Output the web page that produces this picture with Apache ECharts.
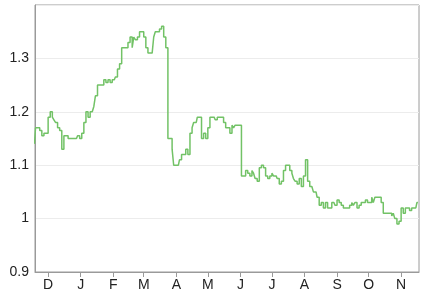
<!DOCTYPE html>
<html>
<head>
<meta charset="utf-8">
<script src="https://cdn.jsdelivr.net/npm/echarts@6/dist/echarts.min.js"></script>
<style>html,body{margin:0;padding:0;background:#fff}#c{width:433px;height:294px}</style>
</head>
<body>
<div id="c"></div>
<script>
const dates = [
'2015-11-18','2015-11-20','2015-11-22','2015-11-24','2015-11-26','2015-11-28','2015-11-30','2015-12-02','2015-12-04','2015-12-06',
'2015-12-07','2015-12-09','2015-12-11','2015-12-13','2015-12-15','2015-12-17','2015-12-19','2015-12-21','2015-12-23','2015-12-25',
'2015-12-26','2015-12-28','2015-12-30','2016-01-01','2016-01-03','2016-01-05','2016-01-07','2016-01-09','2016-01-11','2016-01-13',
'2016-01-14','2016-01-16','2016-01-18','2016-01-20','2016-01-22','2016-01-24','2016-01-26','2016-01-28','2016-01-30','2016-02-01',
'2016-02-02','2016-02-04','2016-02-06','2016-02-08','2016-02-10','2016-02-12','2016-02-14','2016-02-16','2016-02-18','2016-02-20',
'2016-02-21','2016-02-23','2016-02-25','2016-02-27','2016-02-29','2016-03-02','2016-03-04','2016-03-06','2016-03-08','2016-03-10',
'2016-03-11','2016-03-13','2016-03-15','2016-03-17','2016-03-19','2016-03-21','2016-03-23','2016-03-25','2016-03-27','2016-03-29',
'2016-03-30','2016-04-01','2016-04-03','2016-04-05','2016-04-07','2016-04-09','2016-04-11','2016-04-13','2016-04-15','2016-04-17',
'2016-04-18','2016-04-20','2016-04-22','2016-04-24','2016-04-26','2016-04-28','2016-04-30','2016-05-02','2016-05-04','2016-05-06',
'2016-05-07','2016-05-09','2016-05-11','2016-05-13','2016-05-15','2016-05-17','2016-05-19','2016-05-21','2016-05-23','2016-05-25',
'2016-05-26','2016-05-28','2016-05-30','2016-06-01','2016-06-03','2016-06-05','2016-06-07','2016-06-09','2016-06-11','2016-06-13',
'2016-06-14','2016-06-16','2016-06-18','2016-06-20','2016-06-22','2016-06-24','2016-06-26','2016-06-28','2016-06-30','2016-07-02',
'2016-07-03','2016-07-05','2016-07-07','2016-07-09','2016-07-11','2016-07-13','2016-07-15','2016-07-17','2016-07-19','2016-07-21',
'2016-07-22','2016-07-24','2016-07-26','2016-07-28','2016-07-30','2016-08-01','2016-08-03','2016-08-05','2016-08-07','2016-08-09',
'2016-08-10','2016-08-12','2016-08-14','2016-08-16','2016-08-18','2016-08-20','2016-08-22','2016-08-24','2016-08-26','2016-08-28',
'2016-08-29','2016-08-31','2016-09-02','2016-09-04','2016-09-06','2016-09-08','2016-09-10','2016-09-12','2016-09-14','2016-09-16',
'2016-09-17','2016-09-19','2016-09-21','2016-09-23','2016-09-25','2016-09-27','2016-09-29','2016-10-01','2016-10-03','2016-10-05',
'2016-10-06','2016-10-08','2016-10-10','2016-10-12','2016-10-14','2016-10-16','2016-10-18','2016-10-20','2016-10-22','2016-10-24',
'2016-10-25','2016-10-27','2016-10-29','2016-10-31','2016-11-02','2016-11-04','2016-11-06','2016-11-08','2016-11-10','2016-11-12',
'2016-11-13','2016-11-15','2016-11-17'
];
const values = [
1.14,1.17,1.17,1.165,1.155,1.16,1.16,1.19,1.2,1.19,
1.185,1.18,1.17,1.165,1.13,1.155,1.155,1.15,1.15,1.15,
1.15,1.15,1.155,1.15,1.16,1.18,1.2,1.19,1.2,1.2,
1.21,1.23,1.25,1.25,1.25,1.26,1.255,1.26,1.255,1.26,
1.26,1.265,1.28,1.29,1.32,1.32,1.32,1.33,1.34,1.32,
1.34,1.335,1.34,1.35,1.35,1.34,1.32,1.31,1.31,1.31,
1.34,1.35,1.35,1.355,1.36,1.34,1.32,1.15,1.15,1.13,
1.1,1.1,1.1,1.11,1.12,1.12,1.13,1.12,1.16,1.17,
1.18,1.18,1.19,1.19,1.15,1.16,1.15,1.17,1.19,1.19,
1.19,1.185,1.19,1.19,1.19,1.18,1.17,1.17,1.16,1.175,
1.17,1.175,1.175,1.175,1.08,1.08,1.09,1.085,1.08,1.09,
1.085,1.075,1.07,1.095,1.1,1.095,1.08,1.075,1.08,1.085,
1.08,1.08,1.075,1.065,1.07,1.09,1.1,1.1,1.09,1.085,
1.075,1.07,1.065,1.075,1.06,1.08,1.11,1.07,1.06,1.06,
1.05,1.05,1.04,1.025,1.03,1.02,1.03,1.02,1.02,1.03,
1.03,1.025,1.035,1.03,1.025,1.02,1.02,1.02,1.025,1.03,
1.025,1.03,1.02,1.025,1.03,1.03,1.035,1.03,1.03,1.04,
1.03,1.04,1.04,1.04,1.03,1.01,1.01,1.01,1.01,1.005,
1.01,1.0,0.99,0.995,1.02,1.01,1.02,1.02,1.015,1.02,
1.02,1.02,1.03
];
const monthLetters = ['J','F','M','A','M','J','J','A','S','O','N','D'];
const yTicks = [0.9, 1, 1.1, 1.2, 1.3];

const chart = echarts.init(document.getElementById('c'), null, {renderer: 'canvas'});
chart.setOption({
  animation: false,
  grid: {left: 35, right: 14, top: 5, bottom: 22, show: true, borderColor: '#9a9a9a', borderWidth: 1},
  xAxis: {
    type: 'time',
    min: '2015-11-18 12:00',
    max: '2016-11-18',
    minInterval: 28 * 86400000,
    maxInterval: 31 * 86400000,
    axisLine: {lineStyle: {color: '#9a9a9a', width: 1}},
    axisTick: {show: true, length: 5, lineStyle: {color: '#9a9a9a'}},
    splitLine: {show: false},
    axisLabel: {
      color: '#222', fontSize: 14, fontFamily: 'Liberation Sans, Arial, sans-serif', margin: 6,
      hideOverlap: false, showMinLabel: false, showMaxLabel: false,
      formatter: function (v) { return monthLetters[new Date(v).getMonth()]; }
    }
  },
  yAxis: {
    type: 'value', min: 0.9, max: 1.4, interval: 0.1,
    axisLine: {show: true, lineStyle: {color: '#9a9a9a', width: 1}},
    axisTick: {show: false},
    splitLine: {show: true, lineStyle: {color: '#ececec', width: 1}},
    axisLabel: {
      color: '#222', fontSize: 14, fontFamily: 'Liberation Sans, Arial, sans-serif', margin: 6,
      formatter: function (v) {
        const r = Math.round(v * 10) / 10;
        return yTicks.indexOf(r) >= 0 ? String(r) : '';
      }
    }
  },
  series: [{
    type: 'line',
    step: 'middle',
    data: dates.map((d, i) => [d, values[i]]),
    showSymbol: false,
    lineStyle: {color: '#72c266', width: 1.5},
    itemStyle: {color: '#72c266'}
  }]
});
</script>
</body>
</html>
